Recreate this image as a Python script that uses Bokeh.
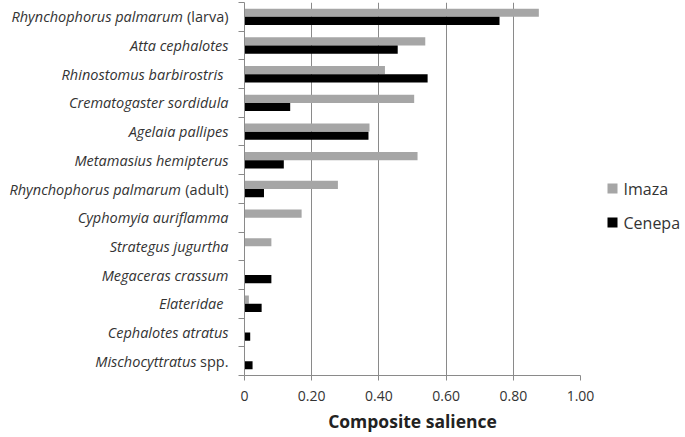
import numpy as np
from bokeh.plotting import figure
from bokeh.layouts import row
from bokeh.models import ColumnDataSource, Range1d, FixedTicker
from bokeh.core.properties import value
from bokeh.embed import file_html
from bokeh.resources import INLINE

# ---------------- data ----------------
species_italic = [
    "Rhynchophorus palmarum",
    "Atta cephalotes",
    "Rhinostomus barbirostris",
    "Crematogaster sordidula",
    "Agelaia pallipes",
    "Metamasius hemipterus",
    "Rhynchophorus palmarum",
    "Cyphomyia auriflamma",
    "Strategus jugurtha",
    "Megaceras crassum",
    "Elateridae",
    "Cephalotes atratus",
    "Mischocyttratus",
]
species_suffix = ["(larva)", "", "", "", "", "", "(adult)", "", "", "", "", "", "spp."]
imaza = [0.876, 0.538, 0.418, 0.505, 0.372, 0.515, 0.278, 0.170, 0.080, 0.0, 0.013, 0.0, 0.0]
cenepa = [0.759, 0.456, 0.545, 0.136, 0.369, 0.117, 0.058, 0.0, 0.0, 0.080, 0.051, 0.017, 0.024]
series_names = ["Imaza", "Cenepa"]
x_ticks = [0, 0.2, 0.4, 0.6, 0.8, 1.0]
x_tick_labels = ["0", "0.20", "0.40", "0.60", "0.80", "1.00"]
x_title = "Composite salience"

# ---------------- styles ----------------
FONT = "Open Sans"
TXT = "#333333"
GRID = "#8a8a8a"
COLORS = ["#a6a6a6", "#000000"]
TOTAL_W, H = 685, 437
TOP, BOTTOM = 2, 62
LEFT_W = 238              # label column
MAIN_W = 362              # 6 axis + 336 frame + 20 right border
LEG_W = TOTAL_W - LEFT_W - MAIN_W
LABEL_GAP = 10
LABEL_SIZE = "14.5px"
SUFFIX_W = {"(larva)": 45.5, "(adult)": 47.5, "spp.": 32, "": 0}   # incl. the space before
TRAIL = {"Rhinostomus barbirostris": 5, "Elateridae": 5}
BAR_H = 0.285
BAR_OFF = 0.143
LEG_X = 12                 # legend square centre (px into legend column)
LEG_Y = [187, 153]         # legend rows, px above frame bottom
LEG_STANDOFF = 6

n = len(species_italic)
yc = n - np.arange(n) - 0.5
y_range = Range1d(0, n)
frame_h = H - TOP - BOTTOM


def bare(width, x_range, y_rng, **kw):
    f = figure(width=width, height=H, x_range=x_range, y_range=y_rng,
               output_backend="svg", toolbar_location=None,
               x_axis_type=None, y_axis_type=None,
               min_border_left=0, min_border_right=0,
               min_border_top=TOP, min_border_bottom=BOTTOM, **kw)
    f.outline_line_color = None
    f.grid.grid_line_color = None
    return f


# ---------------- label column ----------------
off_suffix = [-(LABEL_GAP + TRAIL.get(s, 0)) for s in species_italic]
off_italic = [off_suffix[k] - SUFFIX_W[species_suffix[k]] for k in range(n)]
left = bare(LEFT_W, Range1d(0, 1), y_range)
labels = ColumnDataSource(dict(
    x=[1.0] * n, y=yc, italic=species_italic, suffix=species_suffix,
    off_i=off_italic, off_s=off_suffix,
))
left.text(x="x", y="y", text="italic", x_offset="off_i", source=labels,
          text_font=value(FONT), text_font_style="italic",
          text_font_size=LABEL_SIZE, text_color=TXT,
          text_align="right", text_baseline="middle")
left.text(x="x", y="y", text="suffix", x_offset="off_s", source=labels,
          text_font=value(FONT), text_font_style="normal",
          text_font_size=LABEL_SIZE, text_color=TXT,
          text_align="right", text_baseline="middle")

# ---------------- main chart ----------------
bars = ColumnDataSource(dict(
    y_i=yc + BAR_OFF, y_c=yc - BAR_OFF,
    imaza=imaza, cenepa=cenepa,
))
p = figure(width=MAIN_W, height=H, x_range=Range1d(0, 1), y_range=y_range,
           output_backend="svg", toolbar_location=None,
           min_border_left=6, min_border_right=20, min_border_top=TOP,
           min_border_bottom=BOTTOM)
p.outline_line_color = None

p.hbar(y="y_i", left=0, right="imaza", height=BAR_H, source=bars,
       fill_color=COLORS[0], line_color=None)
p.hbar(y="y_c", left=0, right="cenepa", height=BAR_H, source=bars,
       fill_color=COLORS[1], line_color=None)

p.xaxis.ticker = FixedTicker(ticks=x_ticks)
p.xaxis.major_label_overrides = {t: l for t, l in zip(x_ticks, x_tick_labels)}
p.xaxis.major_label_text_font = FONT
p.xaxis.major_label_text_font_size = "14px"
p.xaxis.major_label_text_color = TXT
p.xaxis.major_label_standoff = 10
p.xaxis.axis_line_color = GRID
p.xaxis.major_tick_line_color = GRID
p.xaxis.major_tick_out = 5
p.xaxis.major_tick_in = 0
p.xaxis.minor_tick_line_color = None
p.xaxis.axis_label = x_title
p.xaxis.axis_label_text_font = FONT
p.xaxis.axis_label_text_font_size = "17.5px"
p.xaxis.axis_label_text_font_style = "bold"
p.xaxis.axis_label_text_color = "#222222"
p.xaxis.axis_label_standoff = 5

p.yaxis.ticker = FixedTicker(ticks=list(range(n + 1)))
p.yaxis.major_label_overrides = {k: "" for k in range(n + 1)}
p.yaxis.major_label_standoff = 0
p.yaxis.axis_line_color = GRID
p.yaxis.major_tick_line_color = GRID
p.yaxis.major_tick_out = 6
p.yaxis.major_tick_in = 0
p.yaxis.minor_tick_line_color = None

p.xgrid.ticker = FixedTicker(ticks=x_ticks[1:])
p.xgrid.grid_line_color = GRID
p.ygrid.grid_line_color = None

# ---------------- legend column ----------------
leg = bare(LEG_W, Range1d(0, LEG_W), Range1d(0, frame_h))
leg_src = ColumnDataSource(dict(x=[LEG_X] * 2, y=LEG_Y, name=series_names, color=COLORS))
leg.rect(x="x", y="y", width=10, height=10, width_units="screen",
         height_units="screen", fill_color="color", line_color=None, source=leg_src)
leg.text(x="x", y="y", text="name", x_offset=5 + LEG_STANDOFF, source=leg_src,
         text_font=value(FONT), text_font_size="16px", text_color=TXT,
         text_align="left", text_baseline="middle")

layout = row(left, p, leg, spacing=0)
open("out.html", "w").write(file_html(layout, INLINE))
